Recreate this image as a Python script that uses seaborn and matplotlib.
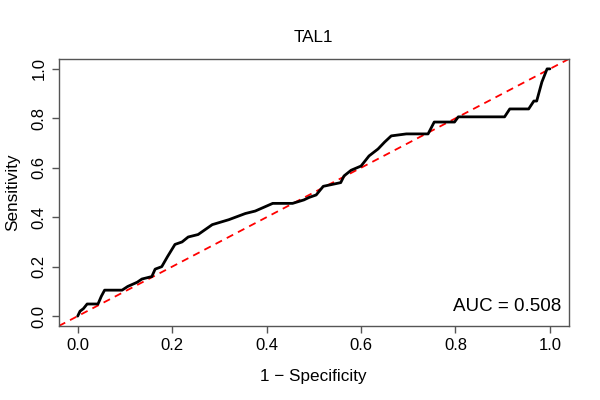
import numpy as np
import pandas as pd
import matplotlib
matplotlib.use("Agg")
import matplotlib.pyplot as plt
import seaborn as sns

# ROC curve points (1 - specificity, sensitivity)
fpr = [0.0, 0.005, 0.012, 0.02, 0.043, 0.05, 0.057, 0.094, 0.106, 0.126, 0.136,
       0.157, 0.164, 0.178, 0.19, 0.206, 0.221, 0.234, 0.255, 0.285, 0.32,
       0.355, 0.376, 0.413, 0.455, 0.479, 0.49, 0.505, 0.52, 0.557, 0.564,
       0.579, 0.6, 0.617, 0.636, 0.65, 0.664, 0.696, 0.742, 0.755, 0.798,
       0.806, 0.904, 0.915, 0.955, 0.966, 0.972, 0.983, 0.994, 1.0]
tpr = [0.0, 0.02, 0.03, 0.049, 0.049, 0.08, 0.105, 0.105, 0.12, 0.137, 0.15,
       0.16, 0.19, 0.2, 0.24, 0.29, 0.30, 0.32, 0.33, 0.37, 0.39,
       0.415, 0.425, 0.456, 0.456, 0.47, 0.48, 0.49, 0.525, 0.54, 0.567,
       0.59, 0.607, 0.648, 0.676, 0.704, 0.729, 0.737, 0.737, 0.785, 0.785,
       0.806, 0.806, 0.838, 0.838, 0.87, 0.87, 0.947, 1.0, 1.0]
title = "TAL1"
auc_label = "AUC = 0.508"

roc = pd.DataFrame({"fpr": fpr, "tpr": tpr})

sns.set_style("white")
plt.rcParams["font.family"] = ["Liberation Sans", "DejaVu Sans"]
plt.rcParams["text.color"] = "black"
plt.rcParams["axes.labelcolor"] = "black"

fig = plt.figure(figsize=(6, 4), dpi=100)
ax = fig.add_axes([0.098, 0.185, 0.85, 0.6675])

ax.axline((0, 0), (1, 1), color="red", lw=1.3, ls=(0, (4, 3)))
sns.lineplot(data=roc, x="fpr", y="tpr", sort=False, estimator=None,
             color="black", lw=2.0, ax=ax)

ax.set_xlim(-0.04, 1.04)
ax.set_ylim(-0.04, 1.04)
ticks = np.arange(0, 1.01, 0.2)
ax.set_xticks(ticks)
ax.set_yticks(ticks)
ax.set_xticklabels([f"{t:.1f}" for t in ticks])
ax.set_yticklabels([f"{t:.1f}" for t in ticks], rotation=90, va="center")
ax.tick_params(axis="both", direction="out", length=5, width=1,
               color="#555555", labelcolor="black", labelsize=12, pad=4,
               bottom=True, left=True)
for s in ax.spines.values():
    s.set_color("#555555")
    s.set_linewidth(1)

ax.set_xlabel("1 \u2212 Specificity", fontsize=12.3, labelpad=11)
ax.set_ylabel("Sensitivity", fontsize=12.3, labelpad=8)
ax.set_title(title, fontsize=12.3, pad=12, color="black")
ax.text(0.985, 0.04, auc_label, transform=ax.transAxes, ha="right",
        va="bottom", fontsize=13.5, color="black")

fig.savefig("out.png", dpi=100)
